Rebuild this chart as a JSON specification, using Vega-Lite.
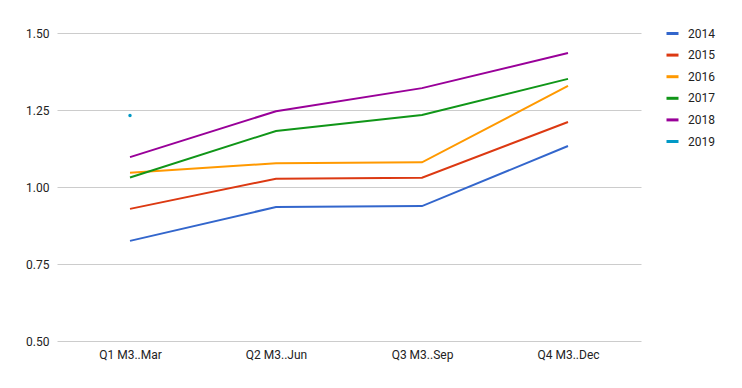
{
  "$schema": "https://vega.github.io/schema/vega-lite/v6.json",
  "width": 584,
  "height": 308,
  "autosize": "none",
  "padding": {"left": 57, "top": 33, "right": 101, "bottom": 47},
  "background": "white",
  "config": {
    "view": {"stroke": null},
    "font": "Roboto",
    "axis": {"labelFont": "Roboto", "labelFontSize": 12, "labelColor": "#222222", "domain": false, "ticks": false, "title": null, "gridColor": "#cccccc"},
    "legend": {"labelFont": "Roboto", "labelFontSize": 12, "labelColor": "#222222"}
  },
  "data": {"values": [
    {"q": "Q1 M3..Mar", "year": "2014", "v": 0.825},
    {"q": "Q2 M3..Jun", "year": "2014", "v": 0.935},
    {"q": "Q3 M3..Sep", "year": "2014", "v": 0.938},
    {"q": "Q4 M3..Dec", "year": "2014", "v": 1.133},
    {"q": "Q1 M3..Mar", "year": "2015", "v": 0.929},
    {"q": "Q2 M3..Jun", "year": "2015", "v": 1.027},
    {"q": "Q3 M3..Sep", "year": "2015", "v": 1.030},
    {"q": "Q4 M3..Dec", "year": "2015", "v": 1.211},
    {"q": "Q1 M3..Mar", "year": "2016", "v": 1.046},
    {"q": "Q2 M3..Jun", "year": "2016", "v": 1.077},
    {"q": "Q3 M3..Sep", "year": "2016", "v": 1.080},
    {"q": "Q4 M3..Dec", "year": "2016", "v": 1.328},
    {"q": "Q1 M3..Mar", "year": "2017", "v": 1.031},
    {"q": "Q2 M3..Jun", "year": "2017", "v": 1.182},
    {"q": "Q3 M3..Sep", "year": "2017", "v": 1.234},
    {"q": "Q4 M3..Dec", "year": "2017", "v": 1.351},
    {"q": "Q1 M3..Mar", "year": "2018", "v": 1.097},
    {"q": "Q2 M3..Jun", "year": "2018", "v": 1.246},
    {"q": "Q3 M3..Sep", "year": "2018", "v": 1.321},
    {"q": "Q4 M3..Dec", "year": "2018", "v": 1.435},
    {"q": "Q1 M3..Mar", "year": "2019", "v": 1.232}
  ]},
  "encoding": {
    "x": {"field": "q", "type": "nominal", "sort": null,
          "scale": {"type": "point", "padding": 0.5},
          "axis": {"labelAngle": 0, "labelPadding": 8, "grid": false}},
    "y": {"field": "v", "type": "quantitative",
          "scale": {"domain": [0.5, 1.5], "nice": false, "zero": false},
          "axis": {"values": [0.5, 0.75, 1.0, 1.25, 1.5], "format": ".2f", "labelPadding": 8, "grid": true}},
    "color": {"field": "year", "type": "nominal",
              "scale": {"domain": ["2014", "2015", "2016", "2017", "2018", "2019"],
                        "range": ["#3366cc", "#dc3912", "#ff9900", "#109618", "#990099", "#0099c6"]},
              "legend": {"title": null, "orient": "none", "legendX": 608, "legendY": -7, "symbolType": "stroke", "symbolSize": 144, "symbolStrokeWidth": 3, "labelOffset": 8, "rowPadding": 7.6, "padding": 0}}
  },
  "layer": [
    {"mark": {"type": "line", "strokeWidth": 2}},
    {"transform": [{"filter": "datum.year == '2019'"}],
     "mark": {"type": "circle", "size": 12, "opacity": 1}}
  ]
}
